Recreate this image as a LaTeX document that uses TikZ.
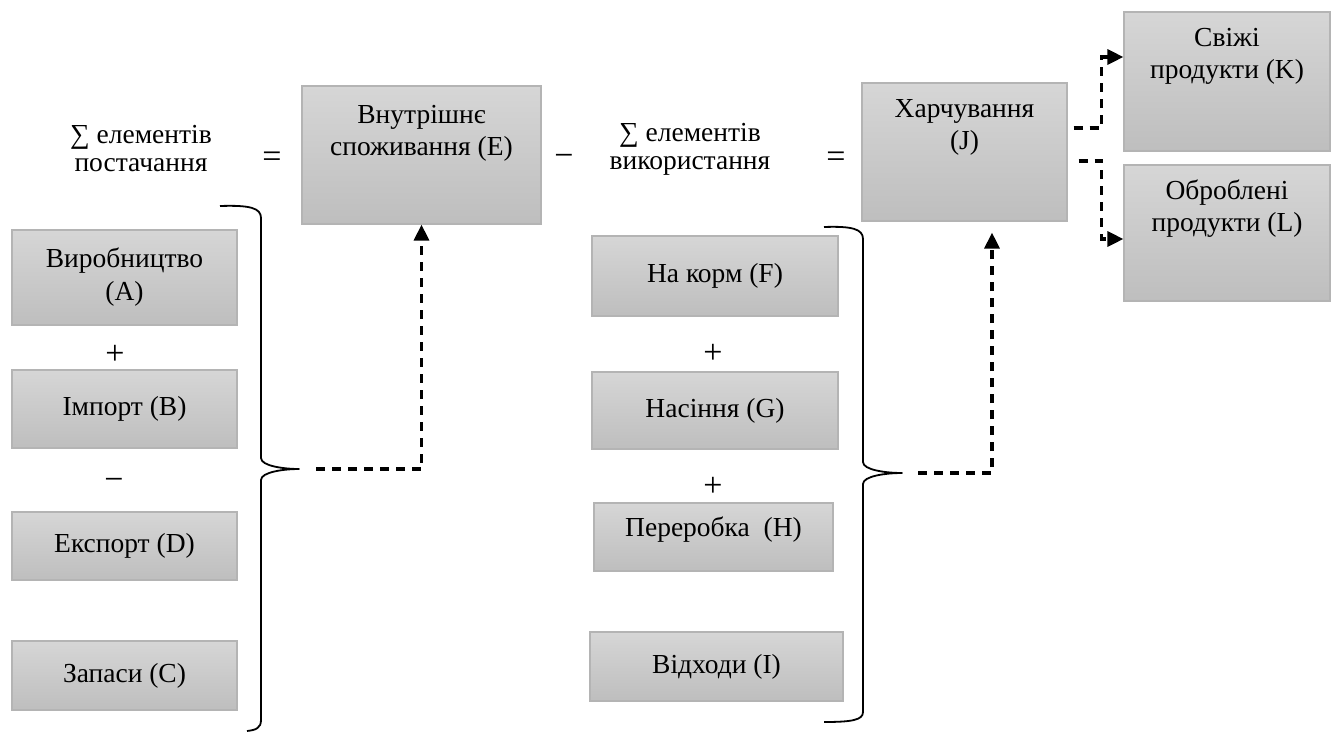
\documentclass[tikz,border=0pt]{standalone}
\usepackage{fontspec}
\setmainfont{Liberation Serif}
\usetikzlibrary{arrows.meta,calc}
\begin{document}
\begin{tikzpicture}[x=1pt,y=-1pt,
  box/.style={draw={rgb,255:red,180;green,180;blue,180}, line width=1.2pt,
    top color={rgb,255:red,214;green,214;blue,214},
    bottom color={rgb,255:red,190;green,190;blue,190},
    inner sep=0pt, align=center, font=\fontsize{27.5}{33}\selectfont},
  txt/.style={inner sep=0pt, align=center, font=\fontsize{27.5}{32}\selectfont},
  lbl/.style={inner sep=0pt, align=center, font=\fontsize{27.5}{28}\selectfont},
  sign/.style={inner sep=0pt, font=\fontsize{34}{34}\selectfont},
  brace/.style={line width=1.8pt, line join=round},
  conn/.style={line width=3.2pt, dash pattern=on 9pt off 7pt,
    -{Triangle[length=16pt,width=15pt]}}
]
\useasboundingbox (0,0) rectangle (1336,731);

% boxes
\node[box, minimum width=225pt, minimum height=95pt]  (A) at (124.5,277.5) {Виробництво\\(A)};
\node[box, minimum width=225pt, minimum height=78pt]  (B) at (124.5,409) {Імпорт (B)};
\node[box, minimum width=225pt, minimum height=68pt]  (D) at (124.5,546) {Експорт (D)};
\node[box, minimum width=225pt, minimum height=69pt]  (C) at (124.5,675.5) {Запаси (C)};
\node[box, minimum width=239pt, minimum height=138pt] (E) at (421.5,155) {};
\node[txt] (Et) at (421.5,133) {Внутрішнє\\споживання (E)};
\node[box, minimum width=246pt, minimum height=80pt]  (F) at (715,276) {На корм (F)};
\node[box, minimum width=246pt, minimum height=77pt]  (G) at (715,410.5) {Насіння (G)};
\node[box, minimum width=239pt, minimum height=68pt]  (H) at (713.5,537) {};
\node[txt] (Ht) at (713.5,530) {Переробка~~(H)};
\node[box, minimum width=253pt, minimum height=69pt]  (I) at (716.5,666.5) {Відходи (I)};
\node[box, minimum width=205pt, minimum height=138pt] (J) at (964.5,152) {};
\node[txt] (Jt) at (964.5,127.5) {Харчування\\(J)};
\node[box, minimum width=206pt, minimum height=139pt] (K) at (1227,81.5) {};
\node[txt] (Kt) at (1227,56) {Свіжі\\продукти (K)};
\node[box, minimum width=206pt, minimum height=136pt] (L) at (1227,233) {};
\node[txt] (Lt) at (1227,209) {Оброблені\\продукти (L)};

% labels and signs
\node[lbl] (S1) at (141,149) {∑ елементів\\постачання};
\node[lbl] (S2) at (690,149) {∑ елементів\\використання};
\node[sign] (eq1) at (272,160) {=};
\node[sign] (mi1) at (564,160) {−};
\node[sign] (eq2) at (836,160) {=};
\node[sign] (p1) at (115,355) {+};
\node[sign] (m2) at (114,484) {−};
\node[sign] (p2) at (713,354) {+};
\node[sign] (p3) at (713,487) {+};

% braces
\draw[brace] (220,206) .. controls (250,205) and (261,208) .. (261,218) -- (261,458)
  .. controls (261,466) and (284,469) .. (299,469)
  .. controls (284,469) and (261,472) .. (261,480) -- (261,720)
  .. controls (261,728) and (256,730) .. (247,731);
\coordinate (t1) at (299,469);
\draw[brace] (824,227) .. controls (852,226) and (863,229) .. (863,239) -- (863,462)
  .. controls (863,470) and (886,473) .. (902,473)
  .. controls (886,473) and (863,476) .. (863,484) -- (863,712)
  .. controls (863,720) and (852,722) .. (824,722);
\coordinate (t2) at (902,473);

% connectors
\draw[conn, shorten <=17pt] (t1) -| (E.south);
\draw[conn, shorten <=16pt, shorten >=11pt] (t2) -| ([xshift=27.5pt]J.south);
\coordinate (j1) at ($(J.east)+(6,-24)$);
\coordinate (j2) at ($(J.east)+(11,9)$);
\draw[conn] (j1) -| ([xshift=-22pt,yshift=24.5pt]K.west) -- ([yshift=24.5pt]K.west);
\draw[conn] (j2) -| ([xshift=-22pt,yshift=-6pt]L.west) -- ([yshift=-6pt]L.west);
\end{tikzpicture}
\end{document}
